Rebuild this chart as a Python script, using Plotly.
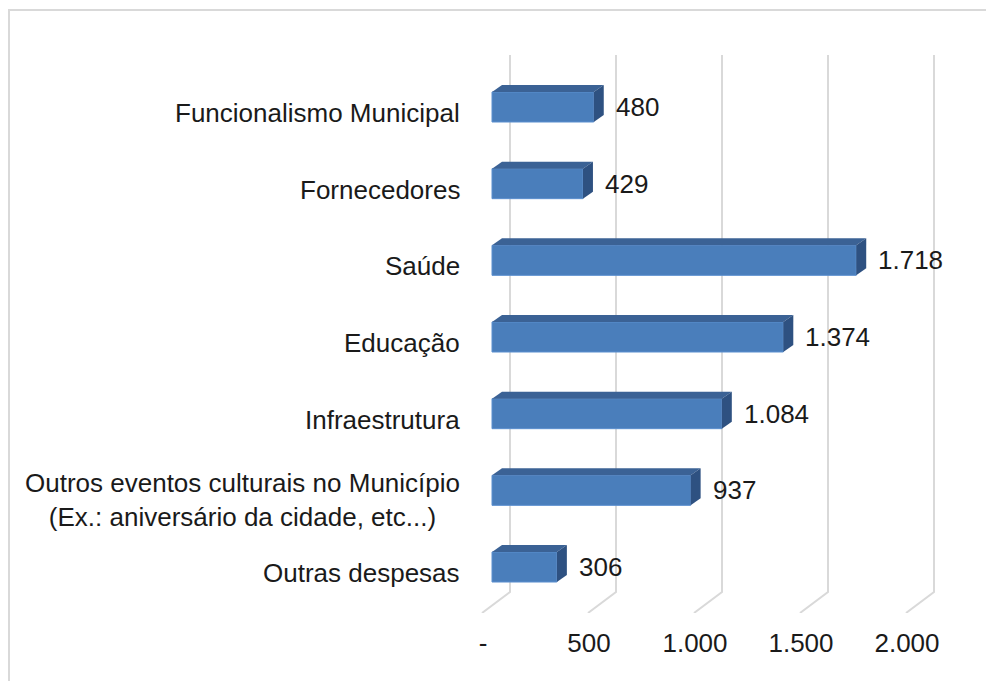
import plotly.graph_objects as go

categorias = [
    "Funcionalismo Municipal",
    "Fornecedores",
    "Saúde",
    "Educação",
    "Infraestrutura",
    "Outros eventos culturais no Município<br>(Ex.: aniversário da cidade, etc...)",
    "Outras despesas",
]
valores = [480, 429, 1718, 1374, 1084, 937, 306]
ticks_x = [0, 500, 1000, 1500, 2000]
ticks_x_txt = ["-", "500", "1.000", "1.500", "2.000"]

FONT = "Liberation Sans, Arial, sans-serif"
COR_FRENTE = "#4a7ebb"
COR_TOPO = "#3b6295"
COR_LADO = "#2e5181"
COR_GRADE = "#d9d9d9"

# geometry of the fake 3D (pixels converted to axis units)
# page has an 8px body margin, so everything is measured 8px up/left
OFF = 8
W, H = 994 - OFF, 681 - OFF
PX_X = 0.212        # pixels per value unit
PX_Y = 76.67        # pixels per category step
X0 = 492 - OFF      # pixel of value 0 on the bar front plane
Y6 = 107 - OFF      # pixel of the top bar centre
L, R, T, B = 432, 952, 32, 613 - OFF
x_range = [(L - X0) / PX_X, (R - X0) / PX_X]
y_range = [-(B - (Y6 + 6 * PX_Y)) / PX_Y, 6 + (Y6 - T) / PX_Y]
meia = 15 / PX_Y
dx, dy = 10 / PX_X, 7 / PX_Y

pos = list(range(len(categorias) - 1, -1, -1))

fig = go.Figure()
fig.add_trace(go.Bar(
    x=valores, y=pos, orientation="h", width=2 * meia,
    marker=dict(color=COR_FRENTE, line=dict(color="#5b8fcf", width=1)),
    hoverinfo="x",
))

shapes = []
# gridlines: back wall + floor diagonal
y_top = 6 + (Y6 - (55 - OFF)) / PX_Y
y_mid = y_range[0] + 21 / PX_Y
for t in ticks_x:
    xb = t + 18 / PX_X
    xf = t - 10 / PX_X
    shapes.append(dict(type="path", layer="below", xref="x", yref="y",
                       path=f"M {xb},{y_top} L {xb},{y_mid} L {xf},{y_range[0]}",
                       line=dict(color=COR_GRADE, width=2)))

# top and side faces of the bars
for v, p in zip(valores, pos):
    yt, yb = p + meia, p - meia
    shapes.append(dict(type="path", xref="x", yref="y", layer="above",
                       path=f"M 0,{yt} L {v},{yt} L {v + dx},{yt + dy} L {dx},{yt + dy} Z",
                       fillcolor=COR_TOPO, line=dict(width=0)))
    shapes.append(dict(type="path", xref="x", yref="y", layer="above",
                       path=f"M {v},{yb} L {v},{yt} L {v + dx},{yt + dy} L {v + dx},{yb + dy} Z",
                       fillcolor=COR_LADO, line=dict(width=0)))

# chart border (right and bottom edges fall outside the picture)
shapes.append(dict(type="rect", xref="paper", yref="paper",
                   x0=(1 - L) / (R - L), x1=(W + 20 - L) / (R - L),
                   y0=(B - H - 20) / (B - T), y1=(B - 2) / (B - T),
                   line=dict(color=COR_GRADE, width=2), layer="below"))

annotations = []
for v, p in zip(valores, pos):
    annotations.append(dict(x=v, y=p, xref="x", yref="y", xanchor="left",
                            text=f"{v:,}".replace(",", "."), showarrow=False,
                            xshift=20, font=dict(size=26, color="#1a1a1a", family=FONT)))
for c, p in zip(categorias, pos):
    linhas = c.count("<br>") + 1
    annotations.append(dict(x=0, y=p, xref="paper", yref="y", xanchor="right",
                            text=c, showarrow=False, align="center",
                            xshift=(462 - OFF) - L, yshift=-6 - 4 * (linhas - 1),
                            font=dict(size=26, color="#1a1a1a", family=FONT)))

fig.update_layout(
    width=W, height=H,
    margin=dict(l=L, r=W - R, t=T, b=H - B),
    paper_bgcolor="white", plot_bgcolor="white",
    showlegend=False,
    shapes=shapes,
    annotations=annotations,
    font=dict(family=FONT, size=26, color="#1a1a1a"),
    xaxis=dict(range=x_range, tickvals=ticks_x, ticktext=ticks_x_txt,
               showgrid=False, zeroline=False, showline=False, ticks="",
               ticklabelshift=-9, ticklabelstandoff=12,
               tickfont=dict(size=26, family=FONT, color="#1a1a1a")),
    yaxis=dict(range=y_range, showticklabels=False, showgrid=False,
               zeroline=False, showline=False, ticks=""),
)

fig.write_html("out.html")
